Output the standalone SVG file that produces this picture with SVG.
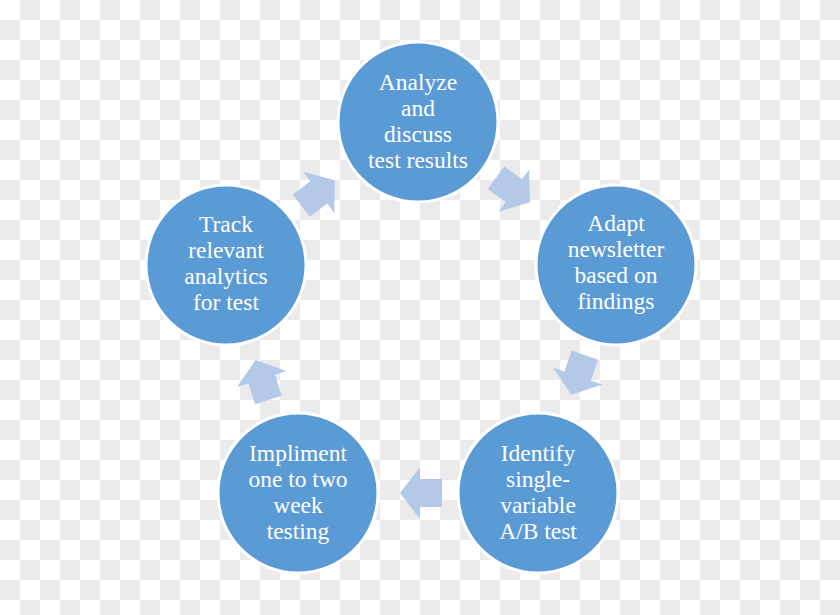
<svg xmlns="http://www.w3.org/2000/svg" width="840" height="615" viewBox="0 0 840 615">
<defs>
<pattern id="chk" width="40" height="40" patternUnits="userSpaceOnUse">
<rect width="40" height="40" fill="#ffffff"/>
<rect x="20" y="0" width="20" height="20" fill="#ebebeb"/>
<rect x="0" y="20" width="20" height="20" fill="#ebebeb"/>
</pattern>
<polygon id="arr" points="-21,-14 1,-14 1,-26 21,0 1,26 1,14 -21,14"/>
<style>
.c{fill:#5b9bd5;stroke:#ffffff;stroke-width:3}
.a{fill:#b4c8e8}
.t{font-family:"Liberation Serif",serif;font-size:23.5px;fill:#ffffff;text-anchor:middle}
</style>
</defs>
<rect width="840" height="615" fill="url(#chk)"/>
<g id="connectors">
<use href="#arr" class="a" transform="translate(318,193) rotate(-37)"/>
<use href="#arr" class="a" transform="translate(513,190) rotate(36)"/>
<use href="#arr" class="a" transform="translate(578,375) rotate(109)"/>
<use href="#arr" class="a" transform="translate(421,493) rotate(180)"/>
<use href="#arr" class="a" transform="translate(262,380) rotate(252)"/>
</g>
<g id="n1"><circle class="c" cx="418" cy="122" r="80"/>
<text class="t" x="418" y="90">Analyze</text><text class="t" x="418" y="116">and</text><text class="t" x="418" y="142">discuss</text><text class="t" x="418" y="168">test results</text></g>
<g id="n2"><circle class="c" cx="616" cy="265" r="80"/>
<text class="t" x="616" y="231">Adapt</text><text class="t" x="616" y="257">newsletter</text><text class="t" x="616" y="283">based on</text><text class="t" x="616" y="309">findings</text></g>
<g id="n3"><circle class="c" cx="538" cy="493" r="80"/>
<text class="t" x="538" y="461">Identify</text><text class="t" x="538" y="487">single-</text><text class="t" x="538" y="513">variable</text><text class="t" x="538" y="539">A/B test</text></g>
<g id="n4"><circle class="c" cx="298" cy="493" r="80"/>
<text class="t" x="298" y="461">Impliment</text><text class="t" x="298" y="487">one to two</text><text class="t" x="298" y="513">week</text><text class="t" x="298" y="539">testing</text></g>
<g id="n5"><circle class="c" cx="226" cy="265" r="80"/>
<text class="t" x="226" y="232">Track</text><text class="t" x="226" y="258">relevant</text><text class="t" x="226" y="284">analytics</text><text class="t" x="226" y="310">for test</text></g>
</svg>
